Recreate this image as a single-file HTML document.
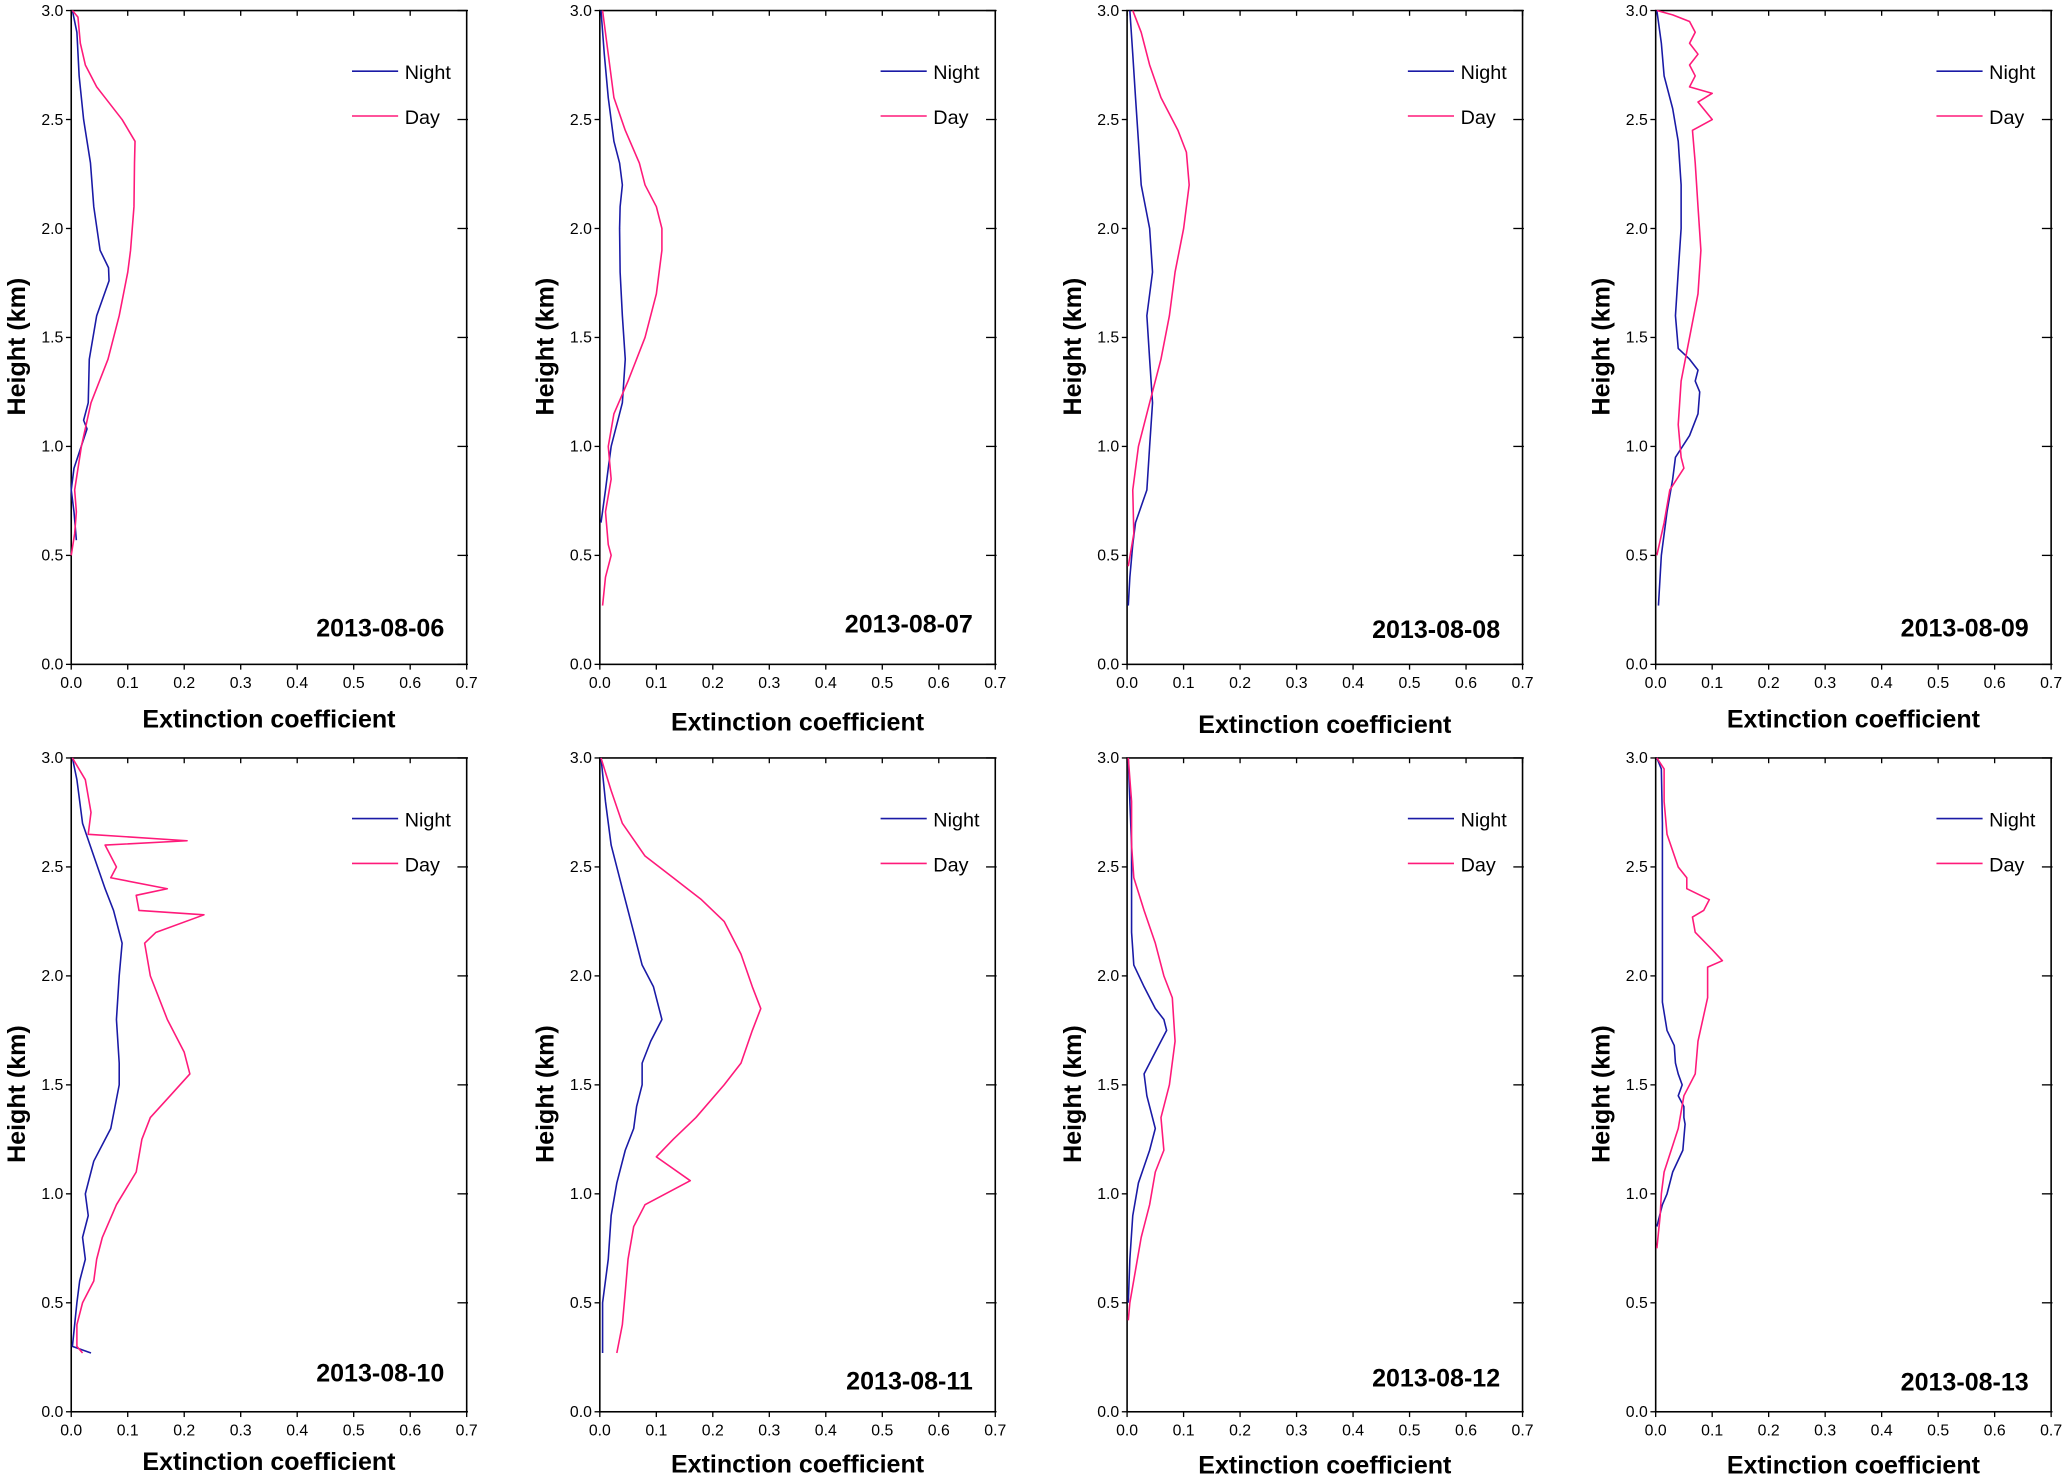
<!DOCTYPE html>
<html>
<head>
<meta charset="utf-8">
<style>
html,body{margin:0;padding:0;background:#fff;}
svg{display:block;}
text{font-family:"Liberation Sans",Arial,sans-serif;}
</style>
</head>
<body>
<svg id="chart" width="2067" height="1479" viewBox="0 0 1568 1122" xmlns="http://www.w3.org/2000/svg"></svg>
<script>
// ---- data ----
const panelDates = ["2013-08-06","2013-08-07","2013-08-08","2013-08-09","2013-08-10","2013-08-11","2013-08-12","2013-08-13"];
const xTicks = [0,0.1,0.2,0.3,0.4,0.5,0.6,0.7];
const xTickLabels = ["0.0","0.1","0.2","0.3","0.4","0.5","0.6","0.7"];
const yTicks = [0,0.5,1,1.5,2,2.5,3];
const yTickLabels = ["0.0","0.5","1.0","1.5","2.0","2.5","3.0"];
// each point: [height km, extinction]
const night1 = [[3,0.002],[2.9,0.01],[2.7,0.014],[2.5,0.022],[2.3,0.034],[2.1,0.04],[1.9,0.051],[1.82,0.066],[1.76,0.067],[1.6,0.045],[1.4,0.032],[1.2,0.03],[1.12,0.022],[1.08,0.028],[0.9,0.005],[0.8,0],[0.7,0.005],[0.57,0.009]];
const day1 = [[3,0.002],[2.97,0.012],[2.85,0.016],[2.75,0.025],[2.65,0.045],[2.6,0.06],[2.5,0.09],[2.4,0.113],[2.3,0.112],[2.1,0.111],[1.9,0.105],[1.8,0.1],[1.6,0.085],[1.4,0.065],[1.2,0.035],[1.0,0.018],[0.8,0.006],[0.7,0.009],[0.6,0.006],[0.5,0]];
const night2 = [[3,0.002],[2.8,0.008],[2.6,0.015],[2.4,0.025],[2.3,0.035],[2.2,0.04],[2.1,0.036],[2.0,0.035],[1.8,0.036],[1.6,0.04],[1.4,0.045],[1.2,0.04],[1.0,0.02],[0.9,0.015],[0.8,0.01],[0.65,0.002]];
const day2 = [[3,0.005],[2.8,0.015],[2.6,0.025],[2.45,0.045],[2.3,0.07],[2.2,0.08],[2.1,0.1],[2.0,0.11],[1.9,0.11],[1.7,0.1],[1.5,0.08],[1.3,0.05],[1.15,0.025],[1.0,0.015],[0.85,0.02],[0.7,0.01],[0.55,0.015],[0.5,0.02],[0.4,0.01],[0.27,0.005]];
const night3 = [[3,0.005],[2.8,0.01],[2.6,0.015],[2.4,0.02],[2.2,0.025],[2.0,0.04],[1.8,0.045],[1.6,0.035],[1.4,0.04],[1.2,0.045],[1.0,0.04],[0.8,0.035],[0.65,0.015],[0.55,0.01],[0.4,0.005],[0.27,0.002]];
const day3 = [[3,0.01],[2.9,0.025],[2.75,0.04],[2.6,0.06],[2.45,0.09],[2.35,0.105],[2.2,0.11],[2.0,0.1],[1.8,0.085],[1.6,0.075],[1.4,0.06],[1.2,0.04],[1.0,0.02],[0.8,0.01],[0.6,0.012],[0.45,0.002]];
const night4 = [[3,0.002],[2.85,0.01],[2.7,0.015],[2.55,0.03],[2.4,0.04],[2.2,0.045],[2.0,0.045],[1.8,0.04],[1.6,0.035],[1.45,0.04],[1.4,0.06],[1.35,0.075],[1.3,0.07],[1.25,0.078],[1.15,0.075],[1.05,0.06],[0.95,0.035],[0.85,0.03],[0.7,0.02],[0.5,0.01],[0.27,0.005]];
const day4 = [[3,0.002],[2.98,0.03],[2.95,0.06],[2.9,0.07],[2.85,0.06],[2.8,0.075],[2.75,0.06],[2.7,0.07],[2.65,0.06],[2.62,0.1],[2.58,0.075],[2.5,0.1],[2.45,0.065],[2.3,0.07],[2.1,0.075],[1.9,0.08],[1.7,0.075],[1.5,0.06],[1.3,0.045],[1.1,0.04],[0.95,0.045],[0.9,0.05],[0.8,0.025],[0.65,0.015],[0.5,0.002]];
const night5 = [[3,0.002],[2.9,0.01],[2.7,0.02],[2.55,0.04],[2.4,0.06],[2.3,0.075],[2.15,0.09],[2.0,0.085],[1.8,0.08],[1.6,0.085],[1.5,0.085],[1.3,0.07],[1.15,0.04],[1.0,0.025],[0.9,0.03],[0.8,0.02],[0.7,0.025],[0.6,0.015],[0.5,0.01],[0.3,0.002],[0.27,0.035]];
const day5 = [[3,0.002],[2.9,0.025],[2.75,0.035],[2.65,0.03],[2.62,0.205],[2.6,0.06],[2.5,0.08],[2.45,0.07],[2.4,0.17],[2.37,0.115],[2.3,0.12],[2.28,0.235],[2.2,0.15],[2.15,0.13],[2.0,0.14],[1.8,0.17],[1.65,0.2],[1.55,0.21],[1.45,0.175],[1.35,0.14],[1.25,0.125],[1.1,0.115],[0.95,0.08],[0.8,0.055],[0.7,0.045],[0.6,0.04],[0.5,0.02],[0.4,0.01],[0.3,0.01],[0.27,0.02]];
const night6 = [[3,0.002],[2.8,0.01],[2.6,0.02],[2.4,0.04],[2.2,0.06],[2.05,0.075],[1.95,0.095],[1.8,0.11],[1.7,0.09],[1.6,0.075],[1.5,0.075],[1.4,0.065],[1.3,0.06],[1.2,0.045],[1.05,0.03],[0.9,0.02],[0.7,0.015],[0.5,0.005],[0.27,0.005]];
const day6 = [[3,0.002],[2.85,0.02],[2.7,0.04],[2.55,0.08],[2.45,0.13],[2.35,0.18],[2.25,0.22],[2.1,0.25],[1.95,0.27],[1.85,0.285],[1.75,0.27],[1.6,0.25],[1.5,0.22],[1.35,0.17],[1.25,0.13],[1.17,0.1],[1.06,0.16],[0.95,0.08],[0.85,0.06],[0.7,0.05],[0.55,0.045],[0.4,0.04],[0.27,0.03]];
const night7 = [[3,0.002],[2.8,0.005],[2.6,0.008],[2.4,0.008],[2.2,0.008],[2.05,0.012],[1.95,0.03],[1.85,0.05],[1.8,0.065],[1.75,0.07],[1.65,0.05],[1.55,0.03],[1.45,0.035],[1.3,0.05],[1.2,0.04],[1.05,0.02],[0.9,0.01],[0.7,0.005],[0.5,0.002]];
const day7 = [[3,0.002],[2.8,0.008],[2.6,0.008],[2.45,0.012],[2.3,0.03],[2.15,0.05],[2.0,0.065],[1.9,0.08],[1.7,0.085],[1.5,0.075],[1.35,0.06],[1.2,0.065],[1.1,0.05],[0.95,0.04],[0.8,0.025],[0.65,0.015],[0.5,0.005],[0.42,0.002]];
const night8 = [[3,0.002],[2.95,0.01],[2.7,0.012],[2.4,0.012],[2.1,0.012],[1.88,0.012],[1.75,0.02],[1.68,0.033],[1.6,0.035],[1.55,0.04],[1.5,0.047],[1.45,0.04],[1.4,0.05],[1.35,0.05],[1.32,0.052],[1.2,0.048],[1.1,0.03],[1.0,0.02],[0.95,0.012],[0.85,0.002]];
const day8 = [[3,0.002],[2.95,0.015],[2.8,0.015],[2.65,0.02],[2.5,0.04],[2.45,0.055],[2.4,0.055],[2.35,0.095],[2.3,0.085],[2.27,0.065],[2.2,0.07],[2.12,0.1],[2.07,0.118],[2.04,0.092],[1.9,0.092],[1.7,0.075],[1.55,0.07],[1.45,0.05],[1.3,0.04],[1.1,0.015],[1.0,0.01],[0.9,0.008],[0.75,0.002]];
const nightData = [night1,night2,night3,night4,night5,night6,night7,night8];
const dayData = [day1,day2,day3,day4,day5,day6,day7,day8];

// ---- layout ----
const NS = "http://www.w3.org/2000/svg";
const svg = document.getElementById("chart");
const colLeft = [54,455,855,1256];
const rowTop = [8,575];
const PW = 300, PH = 496;
const dateY = [483,480,484,483,1048,1054,1052,1055];
const xTitleY = [552,554,556,552,1115,1117,1118,1118];

function mk(tag, attrs, parent){
  const e = document.createElementNS(NS, tag);
  for (const k in attrs) e.setAttribute(k, attrs[k]);
  (parent||svg).appendChild(e);
  return e;
}

for (let i=0;i<8;i++){
  const L = colLeft[i%4], T = rowTop[Math.floor(i/4)];
  const R = L+PW, B = T+PH;
  const xs = v => L + v/0.7*PW;
  const ys = h => B - h/3*PH;
  const g = mk("g",{});
  
  

  const frame = mk("rect",{x:L,y:T,width:PW,height:PH,fill:"none",stroke:"#000","stroke-width":1.2},g);
  
  

  xTicks.forEach((t,k)=>{
    const x = xs(t);
    mk("line",{x1:x,y1:B,x2:x,y2:B+4,stroke:"#000","stroke-width":1},g);
    mk("line",{x1:x,y1:T,x2:x,y2:T+4,stroke:"#000","stroke-width":1},g);
    const tl = mk("text",{x:x,y:B+18,"font-size":12,"text-anchor":"middle",fill:"#000"},g);
    tl.textContent = xTickLabels[k];
    
    
  });
  yTicks.forEach((t,k)=>{
    const y = ys(t);
    mk("line",{x1:L-4,y1:y,x2:L,y2:y,stroke:"#000","stroke-width":1},g);
    mk("line",{x1:R-7,y1:y,x2:R+1,y2:y,stroke:"#000","stroke-width":1},g);
    const tl = mk("text",{x:L-6,y:y+4,"font-size":12,"text-anchor":"end",fill:"#000"},g);
    tl.textContent = yTickLabels[k];
    
    
  });

  const yt = mk("text",{x:0,y:0,"font-size":19,"font-weight":"bold","text-anchor":"middle",transform:`translate(${L-35},${T+PH/2+7}) rotate(-90)`},g);
  yt.textContent = "Height (km)";
  
  

  const xt = mk("text",{x:L+PW/2,y:xTitleY[i],"font-size":19,"font-weight":"bold","text-anchor":"middle"},g);
  xt.textContent = "Extinction coefficient";
  
  

  const dt = mk("text",{x:R-17,y:dateY[i],"font-size":19,"font-weight":"bold","text-anchor":"end"},g);
  dt.textContent = panelDates[i];
  
  

  const toPts = arr => arr.map(p => xs(p[1]).toFixed(1)+","+ys(p[0]).toFixed(1)).join(" ");
  const nl = mk("polyline",{points:toPts(nightData[i]),fill:"none",stroke:"#1a1aa6","stroke-width":1.2,"stroke-linejoin":"round"},g);
  
  
  const dl = mk("polyline",{points:toPts(dayData[i]),fill:"none",stroke:"#ff1a7a","stroke-width":1.2,"stroke-linejoin":"round"},g);
  
  

  // legend
  const lg = mk("g",{},g);
  
  
  mk("line",{x1:L+213,y1:T+46,x2:L+248,y2:T+46,stroke:"#1a1aa6","stroke-width":1.2},lg);
  const ln = mk("text",{x:L+253,y:T+52,"font-size":15},lg);
  ln.textContent = "Night";
  
  
  mk("line",{x1:L+213,y1:T+80,x2:L+248,y2:T+80,stroke:"#ff1a7a","stroke-width":1.2},lg);
  const ld = mk("text",{x:L+253,y:T+86,"font-size":15},lg);
  ld.textContent = "Day";
  
  
}
</script>
</body>
</html>
